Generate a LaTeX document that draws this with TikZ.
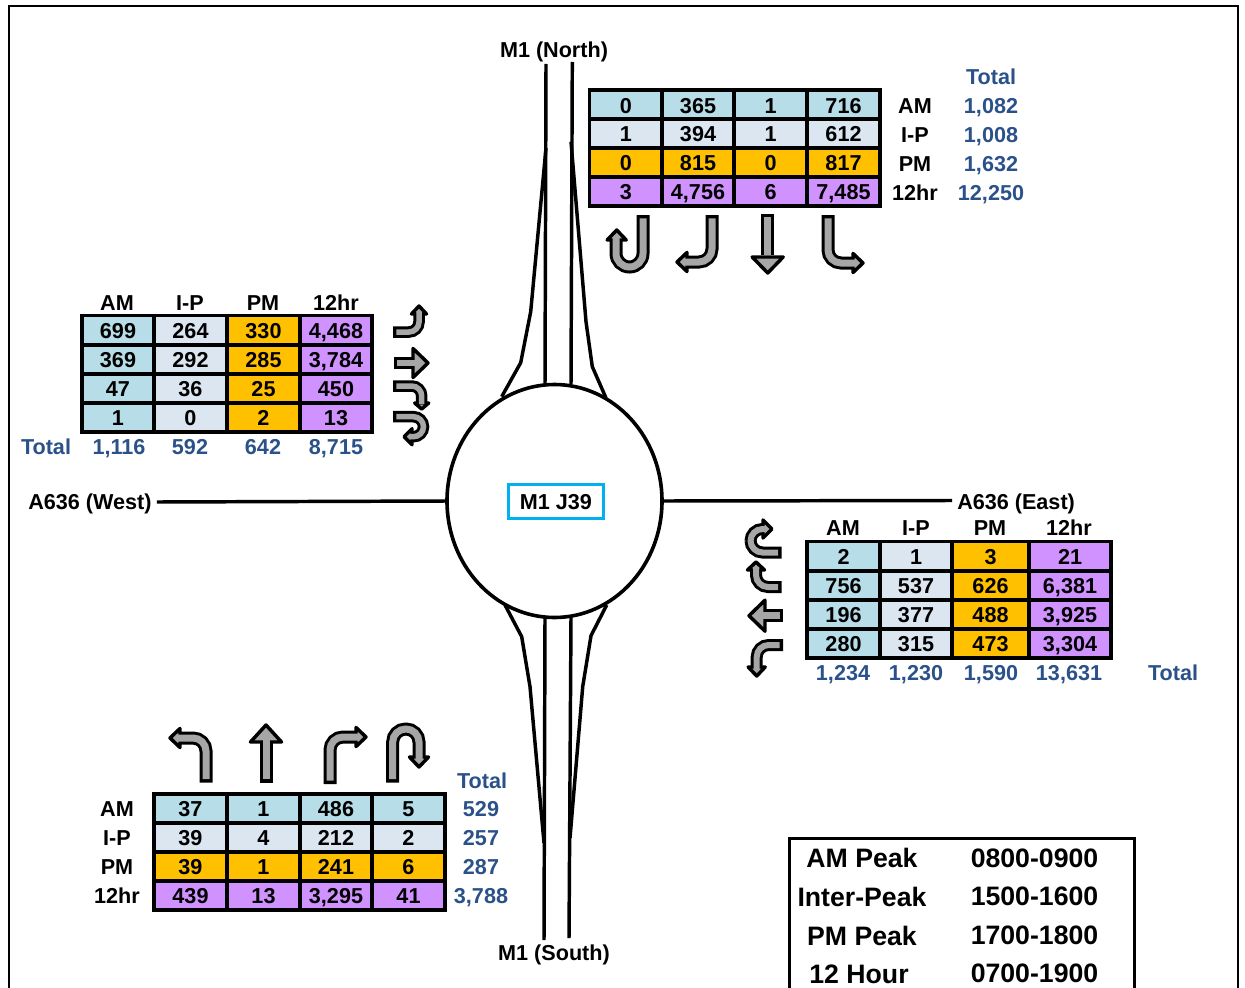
\documentclass[tikz,border=0pt]{standalone}
\usepackage{fontspec}
\setmainfont{Liberation Sans}
\usetikzlibrary{shapes.geometric}
\definecolor{cblue}{HTML}{B7DDE8}
\definecolor{clight}{HTML}{DCE6F1}
\definecolor{corange}{HTML}{FFC000}
\definecolor{cpurple}{HTML}{D092FF}
\definecolor{ttl}{HTML}{2A5189}
\definecolor{agray}{HTML}{A6A6A6}
\definecolor{jcyan}{HTML}{00B0F0}
\tikzset{
  cell/.style={draw=black,line width=2.7pt,minimum height=21.75pt,inner sep=0pt,outer sep=0pt,
    text height=12.7pt,text depth=0pt,font=\fontsize{16.2}{18}\selectfont\bfseries,text=black},
  lab/.style={inner sep=0pt,text height=11.4pt,text depth=0pt,font=\fontsize{16.2}{18}\selectfont\bfseries,text=black},
  road/.style={inner sep=0pt,text height=11.6pt,text depth=0pt,font=\fontsize{16.2}{18}\selectfont\bfseries,text=black},
  tot/.style={lab,text=ttl},
  leg/.style={inner sep=0pt,text height=14.4pt,text depth=0pt,font=\fontsize{20}{22}\selectfont\bfseries,text=black},
  roadline/.style={draw=black,line width=2.6pt,line join=round},
  arrowhead/.style={draw=black,fill=agray,line width=2.6pt,line join=round},
}
% black width, radius, path, tip x, tip y, angle, head length, head half width
\newcommand\turnarrow[8]{%
  \draw[black,line width=#1*0.75pt+0.75pt,rounded corners=#2*0.75pt] #3;
  \draw[arrowhead,shift={(#4,#5)},rotate=#6] (-2,0) -- (-#7,#8) -- (-#7,-#8) -- cycle;
  \draw[agray,line width=#1*0.75pt-3.75pt,rounded corners=#2*0.75pt,shorten <=2.6pt] #3;
}
% row of one colour: name, y, colour, four values
\newcommand\trow[7]{%
  \node[cell,fill=#3,minimum width=\widA*0.75pt] (#1a) at (\colA,#2) {#4};
  \node[cell,fill=#3,minimum width=\widB*0.75pt] (#1b) at (\colB,#2) {#5};
  \node[cell,fill=#3,minimum width=\widC*0.75pt] (#1c) at (\colC,#2) {#6};
  \node[cell,fill=#3,minimum width=\widD*0.75pt] (#1d) at (\colD,#2) {#7};
}
% row with one colour per column: name, y, four values
\newcommand\crow[6]{%
  \node[cell,fill=cblue,minimum width=\widA*0.75pt] (#1a) at (\colA,#2) {#3};
  \node[cell,fill=clight,minimum width=\widB*0.75pt] (#1b) at (\colB,#2) {#4};
  \node[cell,fill=corange,minimum width=\widC*0.75pt] (#1c) at (\colC,#2) {#5};
  \node[cell,fill=cpurple,minimum width=\widD*0.75pt] (#1d) at (\colD,#2) {#6};
}
\begin{document}
\begin{tikzpicture}[x=0.75pt,y=-0.75pt]
\useasboundingbox (0,0) rectangle (1245,988);
% frame
\draw[black,line width=1.5pt] (9,988) -- (9,6) -- (1238,6) -- (1238,988);

% roads
\node[ellipse,draw=black,line width=2.7pt,minimum width=215*0.75pt,minimum height=233*0.75pt,inner sep=0pt,outer sep=0pt] (circ) at (554.5,501) {};
\node[road] (west) at (90,502) {A636 (West)};
\node[road,anchor=west] (east) at (957,502) {A636 (East)};
\node[road] (north) at (554,50) {M1 (North)};
\node[road] (south) at (554,953) {M1 (South)};
\node[draw=jcyan,line width=2.25pt,minimum width=95*0.75pt,minimum height=34*0.75pt,inner sep=0pt,text height=12pt,text depth=0pt,font=\fontsize{16.2}{18}\selectfont\bfseries] (junction) at (556,501.5) {M1 J39};
\draw[roadline] (west.east) ++(5,0) -- (circ.west);
\draw[roadline] (circ.east) -- (952,500.5);
\draw[roadline] (546,64) -- (545,384);
\draw[roadline] (572.3,62) -- (571,384);
\draw[roadline] (546,148) -- (530.7,311.7) -- (520.7,362.7) -- (501.7,396.7);
\draw[roadline] (571,141.7) -- (586,321.7) -- (592.3,366.7) -- (606,398);
\draw[roadline] (545,617) -- (544,940);
\draw[roadline] (571,617) -- (569,938);
\draw[roadline] (505,605) -- (521.7,636.7) -- (530,686.7) -- (544,843);
\draw[roadline] (606.7,605) -- (591,635.7) -- (582.7,686.7) -- (570,838);

% north table
\def\colA{625.75}\def\colB{698}\def\colC{770.5}\def\colD{843.5}
\def\widA{72.5}\def\widB{72}\def\widC{73}\def\widD{73}
\trow{na}{104.75}{cblue}{0}{365}{1}{716}
\trow{nb}{133.5}{clight}{1}{394}{1}{612}
\trow{nc}{162.5}{corange}{0}{815}{0}{817}
\trow{nd}{191.5}{cpurple}{3}{4,756}{6}{7,485}
\node[tot] (ntt) at (991,77) {Total};
\node[lab] (nl1) at (915,106) {AM};\node[tot] (nv1) at (991,106) {1,082};
\node[lab] (nl2) at (915,135) {I-P};\node[tot] (nv2) at (991,135) {1,008};
\node[lab] (nl3) at (915,164) {PM};\node[tot] (nv3) at (991,164) {1,632};
\node[lab] (nl4) at (915,193) {12hr};\node[tot] (nv4) at (991,193) {12,250};
\turnarrow{12}{13.5}{(643,215) -- (643,267) -- (616,267) -- (616,238)}{616.7}{228}{90}{12}{9.5}
\turnarrow{12}{13}{(712,215) -- (712,262) -- (684,262)}{675}{262}{180}{12}{9.5}
\turnarrow{12}{0}{(767.7,214) -- (767.7,255)}{767.7}{275}{-90}{18}{15.5}
\turnarrow{12}{13}{(828,215) -- (828,263) -- (856,263)}{865}{263}{0}{12}{9.5}

% west table
\def\colA{118}\def\colB{190.5}\def\colC{263.5}\def\colD{336}
\def\widA{72}\def\widB{73}\def\widC{73}\def\widD{72}
\crow{wa}{330}{699}{264}{330}{4,468}
\crow{wb}{359.3}{369}{292}{285}{3,784}
\crow{wc}{388.5}{47}{36}{25}{450}
\crow{wd}{417.5}{1}{0}{2}{13}
\foreach \n/\x/\t in {h1/117/AM,h2/190/I-P,h3/263/PM,h4/336/12hr}{\node[lab] (w\n) at (\x,303) {\t};}
\node[tot] (wtt) at (46,447) {Total};
\node[tot] (wv1) at (119,447) {1,116};
\node[tot] (wv2) at (190,447) {592};
\node[tot] (wv3) at (263,447) {642};
\node[tot] (wv4) at (336,447) {8,715};
\turnarrow{10.5}{10}{(393,332) -- (419,332) -- (419,312)}{419}{304}{90}{10}{7.5}
\turnarrow{11}{0}{(394,363) -- (416,363)}{430}{363}{0}{17}{14.5}
\turnarrow{10.5}{10}{(393,386) -- (421.7,386) -- (421.7,404)}{421.7}{411}{-90}{8}{7}
\turnarrow{10.5}{10}{(393,416.7) -- (423.5,416.7) -- (423.5,436.7) -- (410,436.7)}{402}{436.7}{180}{10}{8}

% east table
\def\colA{843.5}\def\colB{916}\def\colC{990.5}\def\colD{1070}
\def\widA{73}\def\widB{72}\def\widC{77}\def\widD{82}
\crow{ea}{556}{2}{1}{3}{21}
\crow{eb}{585.5}{756}{537}{626}{6,381}
\crow{ec}{614.5}{196}{377}{488}{3,925}
\crow{ed}{643.5}{280}{315}{473}{3,304}
\foreach \n/\x/\t in {h1/843/AM,h2/916/I-P,h3/990/PM,h4/1069/12hr}{\node[lab] (e\n) at (\x,528) {\t};}
\node[tot] (ev1) at (843,673) {1,234};
\node[tot] (ev2) at (916,673) {1,230};
\node[tot] (ev3) at (991,673) {1,590};
\node[tot] (ev4) at (1069,673) {13,631};
\node[tot] (ett) at (1173,673) {Total};
\turnarrow{11}{12}{(781.7,552.5) -- (750.5,552.5) -- (750.5,529) -- (765,529)}{774}{529}{0}{11}{9}
\turnarrow{11}{12}{(781.7,587) -- (756,587) -- (756,568)}{756}{560}{90}{10}{8.5}
\turnarrow{12}{0}{(783,615.7) -- (763,615.7)}{747}{615.7}{180}{18}{15.5}
\turnarrow{11}{12}{(783,645) -- (756.7,645) -- (756.7,669)}{756.7}{678}{-90}{11}{8.5}

% south table
\def\colA{190.5}\def\colB{263.5}\def\colC{336}\def\colD{408.5}
\def\widA{73}\def\widB{73}\def\widC{72}\def\widD{73}
\trow{sa}{808.5}{cblue}{37}{1}{486}{5}
\trow{sb}{837.5}{clight}{39}{4}{212}{2}
\trow{sc}{866.5}{corange}{39}{1}{241}{6}
\trow{sd}{895.5}{cpurple}{439}{13}{3,295}{41}
\node[tot] (stt) at (482,781) {Total};
\node[lab] (sl1) at (117,809) {AM};\node[tot] (sv1) at (481,809) {529};
\node[lab] (sl2) at (117,838) {I-P};\node[tot] (sv2) at (481,838) {257};
\node[lab] (sl3) at (117,867) {PM};\node[tot] (sv3) at (481,867) {287};
\node[lab] (sl4) at (117,896) {12hr};\node[tot] (sv4) at (481,896) {3,788};
\turnarrow{12}{13}{(206,782.7) -- (206,738) -- (178,738)}{168}{738}{180}{12}{9.5}
\turnarrow{12}{0}{(266,782.7) -- (266,740)}{266}{723}{90}{19}{15.5}
\turnarrow{12}{13}{(330,784) -- (330,737) -- (359,737)}{368}{737}{0}{12}{9.5}
\turnarrow{12}{13}{(392.7,782.7) -- (392.7,729) -- (419,729) -- (419,759)}{419}{769}{-90}{12}{9.5}

% legend
\draw[black,line width=2.25pt] (789,988) -- (789,838.5) -- (1134.5,838.5) -- (1134.5,988);
\node[leg] (k1) at (862,857.5) {AM Peak};\node[leg] (t1) at (1034.5,857.5) {0800-0900};
\node[leg] (k2) at (862,897) {Inter-Peak};\node[leg] (t2) at (1034.5,896) {1500-1600};
\node[leg] (k3) at (862,936) {PM Peak};\node[leg] (t3) at (1034.5,934.5) {1700-1800};
\node[leg] (k4) at (859,974) {12 Hour};\node[leg] (t4) at (1034.5,973) {0700-1900};
\end{tikzpicture}
\end{document}
